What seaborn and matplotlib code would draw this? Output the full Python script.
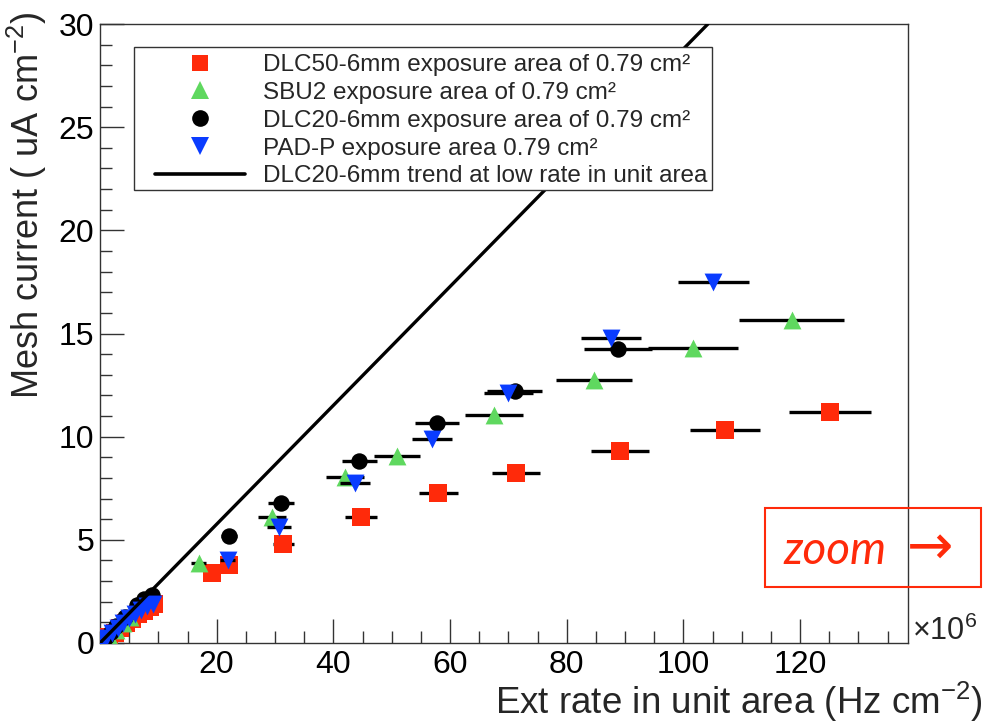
import numpy as np
import pandas as pd
import matplotlib
matplotlib.use("Agg")
import matplotlib.pyplot as plt
from matplotlib.lines import Line2D
from matplotlib.patches import Rectangle
import seaborn as sns

# ---------------- data (x in 1e6 Hz/cm^2, y in uA/cm^2) ----------------
dlc50_x = [0.5, 1.5, 2.5, 3.5, 4.5, 5.5, 6.5, 7.5, 8.5, 9.3,
           19.2, 22.1, 31.4, 44.7, 58.0, 71.3, 89.1, 107.1, 125.1]
dlc50_y = [0.05, 0.3, 0.5, 0.75, 0.95, 1.15, 1.4, 1.55, 1.75, 1.9,
           3.39, 3.77, 4.79, 6.10, 7.26, 8.22, 9.29, 10.30, 11.18]
dlc50_xerr = [0.1, 0.1, 0.2, 0.2, 0.3, 0.3, 0.4, 0.4, 0.5, 0.5,
              1.1, 1.3, 1.8, 2.7, 3.4, 4.1, 5.0, 6.0, 7.0]

sbu2_x = [0.5, 1.5, 2.7, 4.0, 5.2,
          16.9, 29.5, 42.0, 50.9, 67.5, 84.7, 101.7, 118.6]
sbu2_y = [0.1, 0.35, 0.65, 0.95, 1.25,
          3.87, 6.10, 8.03, 9.05, 11.03, 12.77, 14.32, 15.67]
sbu2_xerr = [0.1, 0.1, 0.2, 0.3, 0.4,
             1.3, 2.4, 3.3, 4.0, 5.0, 6.5, 7.7, 9.0]

dlc20_x = [0.3, 1.0, 1.8, 2.7, 4.3, 6.3, 7.6, 8.9,
           22.1, 31.0, 44.4, 57.8, 71.1, 88.8]
dlc20_y = [0.1, 0.3, 0.55, 0.82, 1.26, 1.84, 2.12, 2.35,
           5.18, 6.77, 8.80, 10.64, 12.20, 14.27]
dlc20_xerr = [0.1, 0.1, 0.1, 0.2, 0.3, 0.4, 0.5, 0.5,
              1.3, 2.2, 3.0, 3.8, 4.7, 5.8]

padp_x = [0.3, 1.0, 2.0, 3.0, 4.0, 5.0, 6.0, 7.0, 8.0, 9.0,
          21.9, 30.7, 43.7, 56.9, 70.0, 87.6, 105.1]
padp_y = [0.06, 0.25, 0.5, 0.75, 0.98, 1.2, 1.42, 1.6, 1.78, 1.9,
          4.00, 5.60, 7.74, 9.90, 12.10, 14.80, 17.50]
padp_xerr = [0.1, 0.1, 0.1, 0.2, 0.3, 0.3, 0.4, 0.4, 0.5, 0.5,
             1.3, 2.1, 2.6, 3.4, 4.2, 5.1, 6.1]

trend_x = [0.0, 104.2]
trend_y = [0.0, 30.0]

labels = [
    "DLC50-6mm exposure area of 0.79 cm\u00b2",
    "SBU2 exposure area of 0.79 cm\u00b2",
    "DLC20-6mm exposure area of 0.79 cm\u00b2",
    "PAD-P exposure area 0.79 cm\u00b2",
    "DLC20-6mm trend at low rate in unit area",
]
x_ticks = [20, 40, 60, 80, 100, 120]
y_ticks = [0, 5, 10, 15, 20, 25, 30]

# ---------------- styling ----------------
sns.set_theme(style="ticks")
plt.rcParams["font.family"] = ["Liberation Sans", "DejaVu Sans"]
plt.rcParams["mathtext.fontset"] = "custom"
plt.rcParams["mathtext.rm"] = "Liberation Sans"
plt.rcParams["mathtext.it"] = "Liberation Sans:italic"
plt.rcParams["mathtext.default"] = "regular"

RED = "#ff2a0a"
GREEN = "#5fd85f"
BLACK = "#000000"
BLUE = "#0a3cff"

W, H = 985, 724
fig = plt.figure(figsize=(W / 100, H / 100), dpi=100)
ax = fig.add_axes([100 / W, 1 - 643 / H, 808 / W, 619 / H])

series = [
    (dlc50_x, dlc50_y, dlc50_xerr, "s", RED, 150, labels[0]),
    (sbu2_x, sbu2_y, sbu2_xerr, "^", GREEN, 165, labels[1]),
    (dlc20_x, dlc20_y, dlc20_xerr, "o", BLACK, 140, labels[2]),
    (padp_x, padp_y, padp_xerr, "v", BLUE, 165, labels[3]),
]

z = 2
for xs, ys, xe, mk, col, size, lab in series:
    ax.errorbar(xs, ys, xerr=xe, fmt="none", ecolor="black",
                elinewidth=2.4, capsize=0, zorder=z)
    df = pd.DataFrame({"x": xs, "y": ys})
    sns.scatterplot(data=df, x="x", y="y", marker=mk, color=col, s=size,
                    linewidth=0, ax=ax, zorder=z + 1, legend=False)
    z += 2

sns.lineplot(x=trend_x, y=trend_y, color="black", linewidth=2.4, ax=ax,
             zorder=20, legend=False)

ax.set_xlim(0, 138.5)
ax.set_ylim(0, 30)
ax.set_xlabel("")
ax.set_ylabel("")

ax.set_xticks(x_ticks)
ax.set_xticks(np.arange(0, 138.5, 5), minor=True)
ax.set_yticks(y_ticks)
ax.set_yticks(np.arange(0, 30.01, 1), minor=True)
ax.set_xticklabels([str(t) for t in x_ticks])
ax.set_yticklabels([str(t) for t in y_ticks])
ax.tick_params(axis="both", which="both", direction="in", top=False,
               right=False, colors="#333333", labelcolor="black", width=1.0)
ax.tick_params(axis="both", which="major", length=17, labelsize=23)
ax.tick_params(axis="both", which="minor", length=8.5)
ax.tick_params(axis="y", which="major", pad=4)
ax.tick_params(axis="x", which="major", pad=5)
for sp in ax.spines.values():
    sp.set_visible(True)
    sp.set_linewidth(1.0)
    sp.set_color("#333333")

# axis titles (ROOT style, right/top aligned)
fig.text(983 / W, 1 - 714 / H, "Ext rate in unit area (Hz cm$^{-2}$)",
         ha="right", va="baseline", fontsize=26.5)
fig.text(27 / W, 1 - 12 / H, "Mesh current ( uA cm$^{-2}$)",
         rotation=90, ha="center", va="top", fontsize=26)
fig.text(912 / W, 1 - 640 / H, "\u00d710$^{6}$", ha="left", va="baseline",
         fontsize=22)

# legend (frame drawn separately so the padding matches)
handles = [
    Line2D([], [], marker="s", color=RED, linestyle="none", markersize=12, markeredgewidth=0),
    Line2D([], [], marker="^", color=GREEN, linestyle="none", markersize=12.5, markeredgewidth=0),
    Line2D([], [], marker="o", color=BLACK, linestyle="none", markersize=12, markeredgewidth=0),
    Line2D([], [], marker="v", color=BLUE, linestyle="none", markersize=12.5, markeredgewidth=0),
    Line2D([], [], color="black", linewidth=2.6),
]
leg = ax.legend(handles, labels, loc="upper left",
                bbox_to_anchor=(155 / W, 1 - 54 / H),
                bbox_transform=fig.transFigure,
                fontsize=17.5, frameon=False, borderpad=0,
                handlelength=3.7, handletextpad=0.75, labelspacing=0.24,
                borderaxespad=0)
leg.set_zorder(30)
frame = Rectangle((134 / W, 1 - 190 / H), (712 - 134) / W, (190 - 47) / H,
                  transform=fig.transFigure, facecolor="white",
                  edgecolor="#333333", linewidth=1.0, zorder=25, clip_on=False)
ax.add_artist(frame)

# "zoom ->" box
fig.patches.append(Rectangle((765 / W, 1 - 587 / H), (981 - 765) / W, (587 - 508) / H,
                             transform=fig.transFigure, fill=False,
                             edgecolor="#ff2a0a", linewidth=1.5))
fig.text(783 / W, 1 - 564 / H, "zoom", color="#ff2a0a", fontsize=33,
         style="italic", family=["Lato", "DejaVu Sans"], ha="left", va="baseline")
fig.text(930 / W, 1 - 549 / H, "\u2192", color="#ff2a0a", fontsize=40,
         family=["DejaVu Sans"], ha="center", va="center")

fig.savefig("out.png", dpi=100)
